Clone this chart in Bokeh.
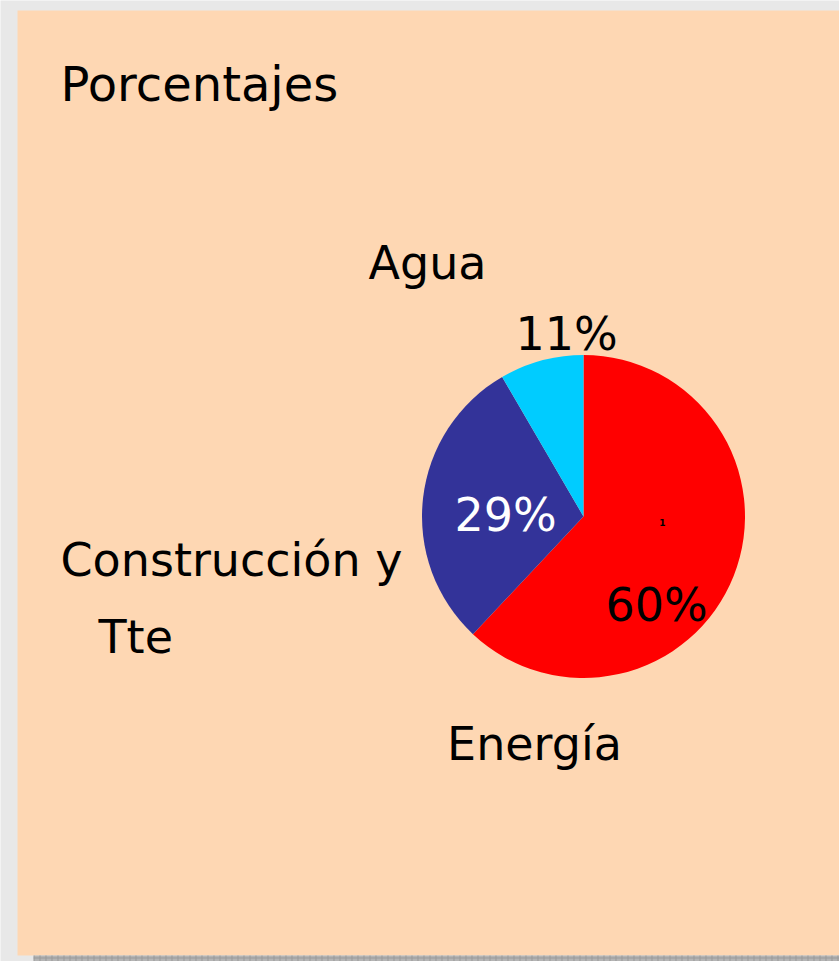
import numpy as np
from bokeh.plotting import figure
from bokeh.models import ColumnDataSource, Range1d
from bokeh.embed import file_html
from bokeh.resources import INLINE
from bokeh.core.properties import value

# ---- data ----
categories = ["Energía", "Construcción y Tte", "Agua"]
# slice sizes as drawn in the picture (labels printed on the chart are below)
slice_values = [62.0, 29.6, 8.4]
pct_labels = ["60%", "29%", "11%"]
slice_colors = ["#FF0000", "#333399", "#00CCFF"]
pct_label_colors = ["#000000", "#FFFFFF", "#000000"]
title_text = "Porcentajes"

W, H = 839, 961
FONT = value("DejaVu Sans")

def Y(py):
    return H - py

p = figure(width=W, height=H, x_range=Range1d(0, W), y_range=Range1d(0, H),
           output_backend="svg", toolbar_location=None, min_border=0,
           outline_line_color=None, background_fill_color="#E8E8E8",
           border_fill_color="#E8E8E8")
p.axis.visible = False
p.grid.visible = False

# panel
p.quad(left=[17], right=[W], top=[Y(10)], bottom=[Y(955)],
       fill_color="#FED7B3", line_color=None)
# striped shadow band
p.quad(left=[33], right=[W], top=[Y(955)], bottom=[Y(961)],
       fill_color="#B4B4B4", line_color=None, hatch_pattern="+",
       hatch_color="#999999", hatch_scale=6, hatch_weight=1)

# pie
cx, cy, r = 583, Y(516), 161.5
fr = np.array(slice_values, dtype=float) / sum(slice_values)
cum = np.concatenate([[0], np.cumsum(fr)])
start = np.pi / 2 - cum[1:] * 2 * np.pi
end = np.pi / 2 - cum[:-1] * 2 * np.pi
src = ColumnDataSource(dict(start=start, end=end, color=slice_colors,
                            cat=categories, val=slice_values))
p.wedge(x=cx, y=cy, radius=r, start_angle="start", end_angle="end",
        fill_color="color", line_color=None, source=src)

DY = 19  # alphabetic baseline offset correction

# title
p.text(x=[60], y=[Y(102 - DY)], text=[title_text], text_font=FONT,
       text_font_size="48px", text_color="#000000", text_baseline="alphabetic")

# percentage labels
lbl = ColumnDataSource(dict(x=[656, 505, 566],
                            y=[Y(623 - DY), Y(533 - DY), Y(352 - DY)],
                            text=pct_labels, color=pct_label_colors))
p.text(x="x", y="y", text="text", text_color="color", source=lbl,
       text_font=FONT, text_font_size="46px", text_align="center",
       text_baseline="alphabetic")

# category labels
cat_src = ColumnDataSource(dict(
    x=[534, 60, 98, 427],
    y=[Y(762 - DY), Y(578 - DY), Y(655 - DY), Y(281 - DY)],
    text=[categories[0], "Construcción y", "Tte", categories[2]],
    align=["center", "left", "left", "center"]))
p.text(x="x", y="y", text="text", source=cat_src, text_font=FONT,
       text_font_size="46px", text_align="align", text_baseline="alphabetic",
       text_color="#000000")

# tiny marker
p.text(x=[662], y=[Y(522)], text=["1"], text_font=FONT, text_font_size="9px",
       text_font_style="bold", text_align="center", text_baseline="middle",
       text_color="#000000")

open("out.html", "w").write(file_html(p, INLINE))
